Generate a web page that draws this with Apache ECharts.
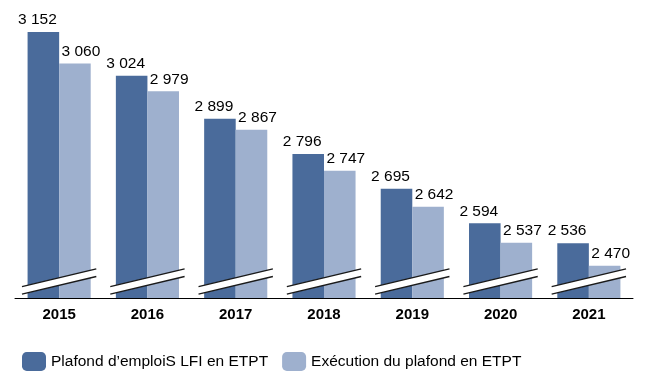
<!DOCTYPE html>
<html>
<head>
<meta charset="utf-8">
<script src="https://cdn.jsdelivr.net/npm/echarts@6/dist/echarts.min.js"></script>
<style>
html,body{margin:0;padding:0;background:#fff;}
#chart{width:646px;height:379px;}
</style>
</head>
<body>
<div id="chart"></div>
<script>
const categories = ['2015', '2016', '2017', '2018', '2019', '2020', '2021'];
const plafondLFI = [3152, 3024, 2899, 2796, 2695, 2594, 2536];
const execution = [3060, 2979, 2867, 2747, 2642, 2537, 2470];
const seriesNames = ['Plafond d\u2019emploiS LFI en ETPT', 'Ex\u00e9cution du plafond en ETPT'];
const axisMin = 2376;
const axisMax = 3187;
const breakValue = 2424;

const FONT = 'Liberation Sans';
const fmt = v => String(v).replace(/\B(?=(\d{3})+(?!\d))/g, ' ');

const chart = echarts.init(document.getElementById('chart'), null, {renderer: 'canvas'});

const breakData = categories.map((c, i) => [i, breakValue]);

chart.setOption({
  animation: false,
  textStyle: {fontFamily: FONT},
  grid: {left: 15, right: 13, top: 20, bottom: 81, containLabel: false},
  legend: {
    data: seriesNames,
    left: 22,
    top: 352,
    padding: 0,
    itemWidth: 24,
    itemHeight: 19,
    itemGap: 14,
    textStyle: {fontFamily: FONT, fontSize: 15.5, color: '#000'}
  },
  xAxis: {
    type: 'category',
    data: categories,
    axisLine: {show: true, lineStyle: {color: '#000', width: 1}},
    axisTick: {show: false},
    axisLabel: {fontFamily: FONT, fontSize: 15, fontWeight: 'bold', color: '#000', margin: 9}
  },
  yAxis: {
    type: 'value',
    min: axisMin,
    max: axisMax,
    show: false,
    splitLine: {show: false}
  },
  series: [
    {
      name: seriesNames[0],
      type: 'bar',
      data: plafondLFI,
      barGap: '0%',
      barCategoryGap: '28.5%',
      itemStyle: {color: '#4A6B9B'},
      label: {
        show: true, position: 'top', distance: 4, offset: [-6, 0],
        fontFamily: FONT, fontSize: 15.5, color: '#000',
        formatter: p => fmt(p.value)
      }
    },
    {
      name: seriesNames[1],
      type: 'bar',
      data: execution,
      barGap: '0%',
      barCategoryGap: '28.5%',
      itemStyle: {color: '#9EB0CE'},
      label: {
        show: true, position: 'top', distance: 4, offset: [6, 0],
        fontFamily: FONT, fontSize: 15.5, color: '#000',
        formatter: p => fmt(p.value)
      }
    },
    {
      name: 'break',
      type: 'custom',
      z: 10,
      silent: true,
      data: breakData,
      renderItem: function (params, api) {
        const c = api.coord([api.value(0), api.value(1)]);
        const band = api.size([1, 0])[0];
        const hw = band * 0.421;
        const rise = band * 0.1;
        const gap = 3.8;
        const x1 = c[0] - hw, x2 = c[0] + hw;
        const yL = c[1] + rise, yR = c[1] - rise;
        return {
          type: 'group',
          children: [
            {
              type: 'polygon',
              shape: {points: [[x1, yL - gap], [x2, yR - gap], [x2, yR + gap], [x1, yL + gap]]},
              style: {fill: '#fff', stroke: null}
            },
            {
              type: 'line',
              shape: {x1: x1, y1: yL - gap, x2: x2, y2: yR - gap},
              style: {stroke: '#1a1a1a', lineWidth: 1.4}
            },
            {
              type: 'line',
              shape: {x1: x1, y1: yL + gap, x2: x2, y2: yR + gap},
              style: {stroke: '#1a1a1a', lineWidth: 1.4}
            }
          ]
        };
      }
    }
  ]
});
</script>
</body>
</html>
